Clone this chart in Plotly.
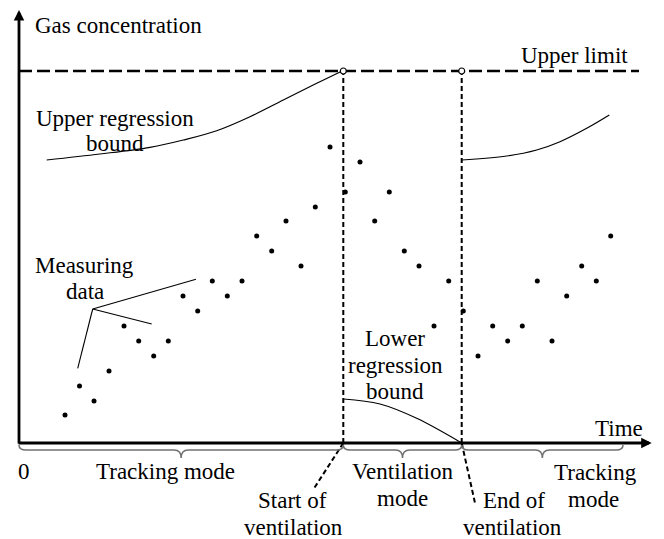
import plotly.graph_objects as go

# ---- data (time / concentration, arbitrary units) ----
meas_time = [46, 60.5, 75, 90, 105, 119.7, 134.7, 149.3, 164, 178.7, 193.3, 208.3, 223,
             237.7, 252.7, 267, 282, 296.3, 311, 326.3, 341, 355.7, 370.3, 385.3, 400,
             415, 429.7, 444.3, 459, 473.7, 488.7, 503.3, 518.3, 533, 547.7, 562.7, 577.3, 591.7]
meas_conc = [28, 57, 42, 72, 117, 102, 87, 102, 147, 132, 162, 147, 162, 207, 192, 222,
             177, 236, 296, 251, 281, 222, 251, 192, 177, 117, 162, 132, 87, 117, 102,
             117, 162, 102, 147, 177, 162, 207]

upper_limit = 372
vent_start = 324.3
vent_end = 442.7
phase_bounds = [0, vent_start, vent_end, 604]

upper1_time = [27.7, 81, 131, 164.3, 197.7, 231, 264.3, 297.7, 323.7]
upper1_conc = [283, 289, 295.7, 303, 312.3, 326.3, 343, 359.7, 372.3]
upper2_time = [442.7, 487.7, 517.7, 541, 567.7, 590.3]
upper2_conc = [283, 287, 293, 301.3, 314.7, 328]
lower_time = [324.3, 361, 397.7, 442.7]
lower_conc = [44, 39, 24.7, 0]

x_tip = 632.7
y_tip = 433

FONT = "Liberation Serif, Times New Roman, serif"
FS = 23

fig = go.Figure()

# upper limit dashed line
fig.add_trace(go.Scatter(x=[0, 620], y=[upper_limit, upper_limit], mode="lines",
                         line=dict(color="black", width=2.7, dash="13px,5px"),
                         hoverinfo="skip"))
# vertical dotted lines
for t in (vent_start, vent_end):
    fig.add_trace(go.Scatter(x=[t, t], y=[0, upper_limit], mode="lines",
                             line=dict(color="black", width=2, dash="5px,3px"),
                             hoverinfo="skip"))

# regression bounds
for xs, ys in ((upper1_time, upper1_conc), (upper2_time, upper2_conc), (lower_time, lower_conc)):
    fig.add_trace(go.Scatter(x=xs, y=ys, mode="lines",
                             line=dict(color="black", width=1.2, shape="spline", smoothing=1.0),
                             hoverinfo="skip"))

# measuring data leader lines
hub = (73.7, 134)
for end in ((58.7, 74.7), (177, 163.7), (132.7, 119)):
    fig.add_trace(go.Scatter(x=[hub[0], end[0]], y=[hub[1], end[1]], mode="lines",
                             line=dict(color="black", width=1.1), hoverinfo="skip"))

# dashed leaders for start / end of ventilation
fig.add_trace(go.Scatter(x=[vent_start, 294], y=[0, -47], mode="lines",
                         line=dict(color="black", width=2, dash="5px,3px"), hoverinfo="skip"))
fig.add_trace(go.Scatter(x=[vent_end, 456], y=[0, -60], mode="lines",
                         line=dict(color="black", width=2, dash="5px,3px"), hoverinfo="skip"))

# measured points
fig.add_trace(go.Scatter(x=meas_time, y=meas_conc, mode="markers",
                         marker=dict(color="black", size=5), hoverinfo="skip"))

# open circles at the upper limit
fig.add_trace(go.Scatter(x=[vent_start, vent_end], y=[upper_limit, upper_limit], mode="markers",
                         marker=dict(color="white", size=6, line=dict(color="black", width=1.2)),
                         hoverinfo="skip"))

# axes arrows
fig.add_annotation(x=0, y=y_tip, ax=0, ay=-2, xref="x", yref="y", axref="x", ayref="y",
                   showarrow=True, arrowhead=2, arrowsize=0.75, arrowwidth=2.8,
                   arrowcolor="black", text="")
fig.add_annotation(x=x_tip, y=0, ax=-2, ay=0, xref="x", yref="y", axref="x", ayref="y",
                   showarrow=True, arrowhead=2, arrowsize=0.75, arrowwidth=2.8,
                   arrowcolor="black", text="")

# braces
shapes = []
y0, y1, tip, r = -2, -7, -15, 7
for a, b in zip(phase_bounds[:-1], phase_bounds[1:]):
    m = (a + b) / 2
    path = (f"M {a},{y0} Q {a},{y1} {a + r},{y1} L {m - r},{y1} Q {m},{y1} {m},{tip} "
            f"Q {m},{y1} {m + r},{y1} L {b - r},{y1} Q {b},{y1} {b},{y0}")
    shapes.append(dict(type="path", path=path, xref="x", yref="y",
                       line=dict(color="#707070", width=1.5)))

# text labels (one entry per line)
labels = [
    ("Gas concentration", 14, 418, "left"),
    ("Upper limit", 555, 388, "center"),
    ("Upper regression", 96, 325, "center"),
    ("bound", 96, 300, "center"),
    ("Measuring", 65.5, 178, "center"),
    ("data", 66, 151.3, "center"),
    ("0", 4.5, -28.7, "center"),
    ("Tracking mode", 146, -28.7, "center"),
    ("Start of", 273.5, -57, "center"),
    ("ventilation", 274.5, -84.5, "center"),
    ("Ventilation", 383.5, -28.7, "center"),
    ("mode", 383, -55, "center"),
    ("Lower", 376, 105, "center"),
    ("regression", 376, 78, "center"),
    ("bound", 376, 51.3, "center"),
    ("Time", 600, 15, "center"),
    ("Tracking", 576, -29.5, "center"),
    ("mode", 574, -56.5, "center"),
    ("End of", 495, -57, "center"),
    ("ventilation", 493.5, -84.5, "center"),
]
for txt, x, y, anc in labels:
    fig.add_annotation(x=x, y=y, xref="x", yref="y", text=txt, showarrow=False,
                       xanchor=anc, yanchor="middle", align="center",
                       font=dict(family=FONT, size=FS, color="black"))

# ranges offset to compensate the page's 8px body margin
fig.update_layout(
    width=664, height=539, autosize=False,
    margin=dict(l=0, r=0, t=0, b=0),
    paper_bgcolor="white", plot_bgcolor="white",
    showlegend=False, shapes=shapes,
    xaxis=dict(range=[-11, 653], visible=False, fixedrange=True),
    yaxis=dict(range=[-104, 435], visible=False, fixedrange=True),
)

fig.write_html("out.html")
